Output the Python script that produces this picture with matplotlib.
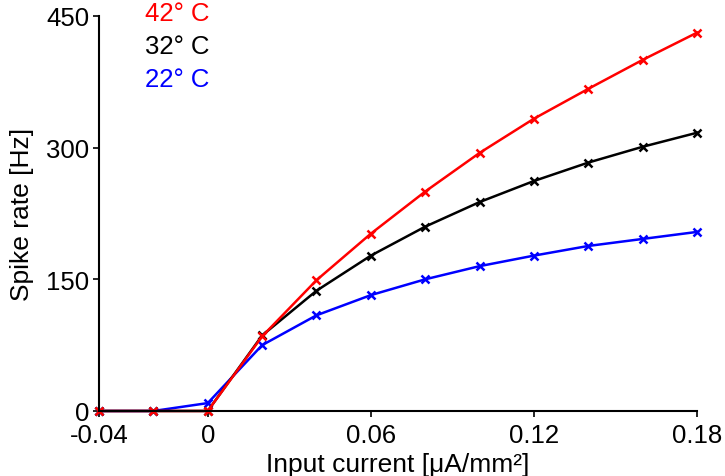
import matplotlib
matplotlib.use("Agg")
import matplotlib.pyplot as plt

plt.rcParams['font.family'] = ['Liberation Sans', 'DejaVu Sans']

# input current (uA/mm2)
courant = [-0.04, -0.02, 0, 0.02, 0.04, 0.06, 0.08, 0.10, 0.12, 0.14, 0.16, 0.18]

# spike rate (Hz) par temperature
taux_42 = [0, 0, 0, 85, 149, 202, 250, 294, 333, 367, 400, 431]
taux_32 = [0, 0, 0, 86, 137, 177, 210, 238, 262, 283, 301, 317]
taux_22 = [0, 0, 9, 75, 109, 132, 150, 165, 177, 188, 196, 204]

x_ticks = [-0.04, 0, 0.06, 0.12, 0.18]
x_labels = ["-0.04", "0", "0.06", "0.12", "0.18"]
y_ticks = [0, 150, 300, 450]

fig = plt.figure(figsize=(7.25, 4.77), dpi=100)
ax = fig.add_axes([0.1366, 0.1363, 0.8248, 0.8281])

# bleu et noir d'abord, rouge par dessus
ax.plot(courant, taux_22, color='#0000ff', lw=1.8, marker='x', ms=6, mew=1.8, clip_on=False)
ax.plot(courant, taux_32, color='black', lw=1.8, marker='x', ms=6, mew=1.8, clip_on=False)
ax.plot(courant, taux_42, color='#ff0000', lw=1.8, marker='x', ms=6, mew=1.8, clip_on=False)

ax.set_xlim(-0.04, 0.18)
ax.set_ylim(0, 450)
ax.set_xticks(x_ticks)
ax.set_xticklabels(x_labels)
ax.set_yticks(y_ticks)
ax.tick_params(labelsize=18.5, direction='out', length=4, width=1.2)
ax.tick_params(axis='x', pad=5)
ax.tick_params(axis='y', pad=3)

for s in ['top', 'right']:
    ax.spines[s].set_visible(False)
for s in ['left', 'bottom']:
    ax.spines[s].set_linewidth(1.5)

ax.set_xlabel("Input current [μA/mm²]", fontsize=19, labelpad=3)
ax.set_ylabel("Spike rate [Hz]", fontsize=19, labelpad=9)

# legende en texte colore
ax.text(0.077, 1.007, "42° C", color='#ff0000', fontsize=18.5, transform=ax.transAxes, va='center')
ax.text(0.077, 0.924, "32° C", color='black', fontsize=18.5, transform=ax.transAxes, va='center')
ax.text(0.077, 0.840, "22° C", color='#0000ff', fontsize=18.5, transform=ax.transAxes, va='center')

fig.savefig("out.png", dpi=100)
